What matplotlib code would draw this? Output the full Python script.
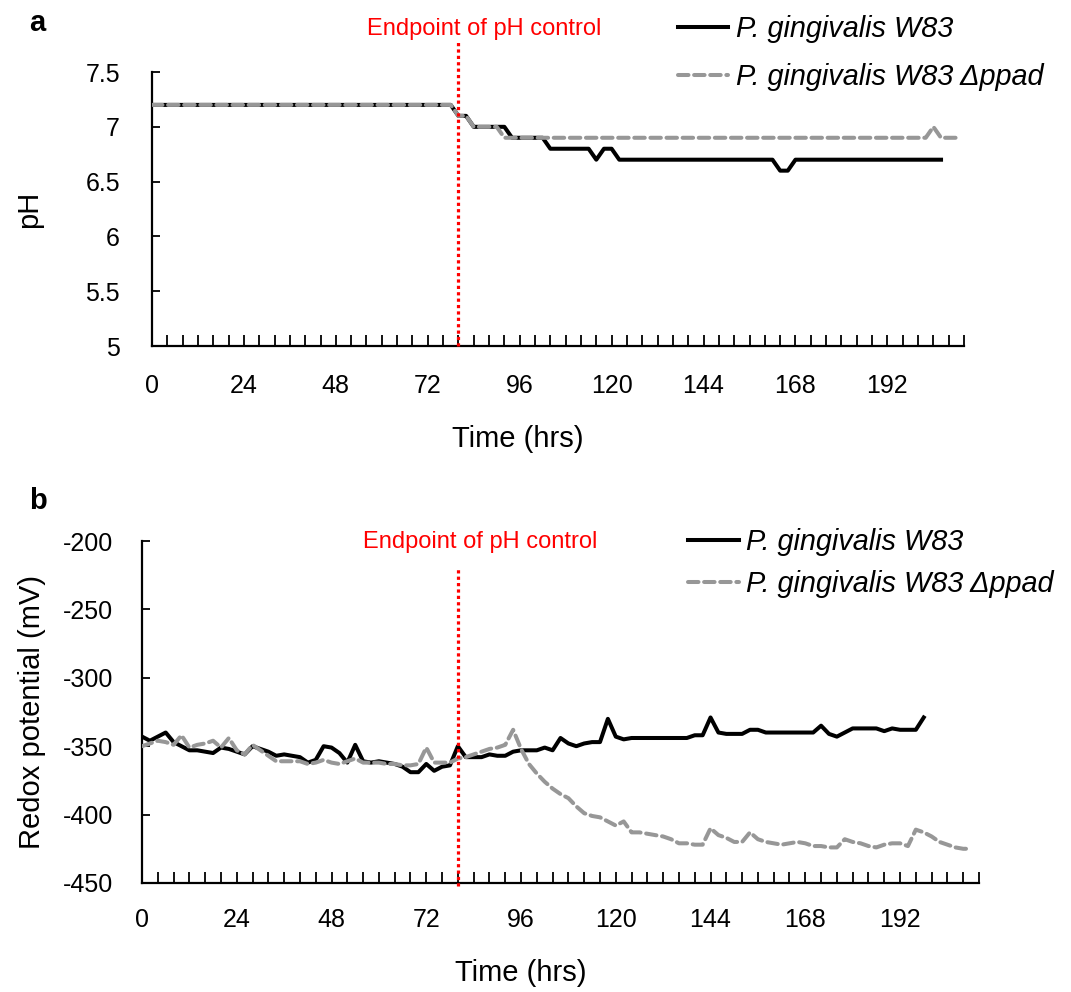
import numpy as np
import matplotlib
matplotlib.use("Agg")
import matplotlib.pyplot as plt

plt.rcParams['font.family'] = ['Liberation Sans', 'DejaVu Sans']
plt.rcParams['axes.unicode_minus'] = False

# sampling every 2 hours
step_hrs = 2

# panel a: pH
ph_w83 = [7.2, 7.2, 7.2, 7.2, 7.2, 7.2, 7.2, 7.2, 7.2, 7.2,
          7.2, 7.2, 7.2, 7.2, 7.2, 7.2, 7.2, 7.2, 7.2, 7.2,
          7.2, 7.2, 7.2, 7.2, 7.2, 7.2, 7.2, 7.2, 7.2, 7.2,
          7.2, 7.2, 7.2, 7.2, 7.2, 7.2, 7.2, 7.2, 7.2, 7.2,
          7.1, 7.1, 7.0, 7.0, 7.0, 7.0, 7.0, 6.9, 6.9, 6.9,
          6.9, 6.9, 6.8, 6.8, 6.8, 6.8, 6.8, 6.8, 6.7, 6.8,
          6.8, 6.7, 6.7, 6.7, 6.7, 6.7, 6.7, 6.7, 6.7, 6.7,
          6.7, 6.7, 6.7, 6.7, 6.7, 6.7, 6.7, 6.7, 6.7, 6.7,
          6.7, 6.7, 6.6, 6.6, 6.7, 6.7, 6.7, 6.7, 6.7, 6.7,
          6.7, 6.7, 6.7, 6.7, 6.7, 6.7, 6.7, 6.7, 6.7, 6.7,
          6.7, 6.7, 6.7, 6.7]
ph_ppad = [7.2, 7.2, 7.2, 7.2, 7.2, 7.2, 7.2, 7.2, 7.2, 7.2,
           7.2, 7.2, 7.2, 7.2, 7.2, 7.2, 7.2, 7.2, 7.2, 7.2,
           7.2, 7.2, 7.2, 7.2, 7.2, 7.2, 7.2, 7.2, 7.2, 7.2,
           7.2, 7.2, 7.2, 7.2, 7.2, 7.2, 7.2, 7.2, 7.2, 7.2,
           7.1, 7.1, 7.0, 7.0, 7.0, 7.0, 6.9, 6.9, 6.9, 6.9,
           6.9, 6.9, 6.9, 6.9, 6.9, 6.9, 6.9, 6.9, 6.9, 6.9,
           6.9, 6.9, 6.9, 6.9, 6.9, 6.9, 6.9, 6.9, 6.9, 6.9,
           6.9, 6.9, 6.9, 6.9, 6.9, 6.9, 6.9, 6.9, 6.9, 6.9,
           6.9, 6.9, 6.9, 6.9, 6.9, 6.9, 6.9, 6.9, 6.9, 6.9,
           6.9, 6.9, 6.9, 6.9, 6.9, 6.9, 6.9, 6.9, 6.9, 6.9,
           6.9, 6.9, 7.0, 6.9, 6.9, 6.9]

# panel b: redox potential (mV)
redox_w83 = [-343, -346, -343, -340, -347, -350, -353, -353, -354, -355,
             -351, -352, -354, -356, -350, -352, -354, -357, -356, -357,
             -358, -362, -360, -350, -351, -355, -362, -349, -361, -362,
             -361, -362, -363, -365, -369, -369, -363, -368, -365, -364,
             -350, -358, -358, -358, -356, -357, -357, -354, -353, -353,
             -353, -351, -353, -344, -348, -350, -348, -347, -347, -330,
             -343, -345, -344, -344, -344, -344, -344, -344, -344, -344,
             -342, -342, -329, -340, -341, -341, -341, -338, -338, -340,
             -340, -340, -340, -340, -340, -340, -335, -341, -343, -340,
             -337, -337, -337, -337, -339, -337, -338, -338, -338, -329]
redox_ppad = [-350, -348, -346, -347, -349, -342, -351, -349, -348, -346,
              -351, -344, -353, -356, -349, -353, -357, -361, -361, -361,
              -361, -363, -362, -360, -362, -363, -361, -359, -362, -362,
              -362, -363, -363, -364, -364, -363, -351, -362, -362, -362,
              -359, -358, -356, -354, -352, -351, -349, -338, -352, -363,
              -370, -376, -381, -385, -388, -394, -399, -401, -402, -405,
              -408, -405, -413, -413, -414, -415, -416, -418, -421, -421,
              -422, -422, -410, -415, -417, -420, -420, -413, -418, -420,
              -421, -422, -421, -420, -421, -423, -423, -424, -424, -418,
              -420, -421, -423, -424, -422, -421, -421, -423, -411, -413,
              -416, -420, -422, -424, -425, -425]

endpoint_hrs = 80
x_max = 212
xtick_labels = ['0', '24', '48', '72', '96', '120', '144', '168', '192']
ph_ticks = [5, 5.5, 6, 6.5, 7, 7.5]
ph_tick_labels = ['5', '5.5', '6', '6.5', '7', '7.5']
redox_ticks = [-450, -400, -350, -300, -250, -200]

label_w83 = 'P. gingivalis W83'
label_ppad = 'P. gingivalis W83 \u0394ppad'
gray = '#979797'


def hours(series):
    return np.arange(len(series)) * step_hrs


def style_axis(ax, ypad, xpad):
    for s in ['top', 'right']:
        ax.spines[s].set_visible(False)
    for s in ['left', 'bottom']:
        ax.spines[s].set_linewidth(1.6)
    ax.set_xlim(0, x_max)
    ticks = np.arange(0, x_max + 1, 4)
    ax.set_xticks(ticks)
    ax.set_xticklabels([str(t) if str(t) in xtick_labels and t % 24 == 0 else '' for t in ticks])
    ax.tick_params(axis='x', direction='in', length=8, width=1.3, pad=xpad, labelsize=18)
    ax.tick_params(axis='y', direction='in', length=6, width=1.3, pad=ypad, labelsize=18)


fig = plt.figure(figsize=(10.71, 9.92), dpi=100)

# ---- panel a ----
axa = fig.add_axes([0.1419, 0.6512, 0.7582, 0.2762])
axa.plot(hours(ph_w83), ph_w83, color='black', lw=2.9, label=label_w83, zorder=3)
axa.plot(hours(ph_ppad), ph_ppad, color=gray, lw=2.9, dashes=(2.6, 1.4),
         dash_capstyle='round', label=label_ppad, zorder=4)
axa.axvline(endpoint_hrs, ymin=0, ymax=1.117, color='red', lw=2.3,
            linestyle=(0, (1, 1)), clip_on=False, zorder=5)
axa.set_ylim(5, 7.5)
axa.set_yticks(ph_ticks)
axa.set_yticklabels(ph_tick_labels)
style_axis(axa, ypad=23, xpad=20)
axa.set_ylabel('pH', fontsize=21)
axa.yaxis.set_label_coords(-0.134, 0.5)
axa.set_xlabel('Time (hrs)', fontsize=21)
axa.xaxis.set_label_coords(0.45, -0.29)
axa.legend(loc='center left', bbox_to_anchor=(0.633, 0.9465),
           bbox_transform=fig.transFigure, frameon=False, borderpad=0,
           borderaxespad=0, handlelength=1.75, handletextpad=0.25,
           labelspacing=0.68, prop={'style': 'italic', 'size': 20.8})
fig.text(0.452, 0.9708, 'Endpoint of pH control', color='red', fontsize=17,
         ha='center', va='center')
fig.text(0.035, 0.977, 'a', fontsize=21, fontweight='bold', ha='center', va='center')

# ---- panel b ----
axb = fig.add_axes([0.1326, 0.1099, 0.7815, 0.3447])
axb.plot(hours(redox_w83), redox_w83, color='black', lw=2.9, label=label_w83, zorder=3)
axb.plot(hours(redox_ppad), redox_ppad, color=gray, lw=2.9, dashes=(2.6, 1.4),
         dash_capstyle='round', label=label_ppad, zorder=4)
axb.axvline(endpoint_hrs, ymin=-0.009, ymax=0.924, color='red', lw=2.3,
            linestyle=(0, (1, 1)), clip_on=False, zorder=5)
axb.set_ylim(-450, -200)
axb.set_yticks(redox_ticks)
style_axis(axb, ypad=21, xpad=18)
axb.set_ylabel('Redox potential (mV)', fontsize=21)
axb.yaxis.set_label_coords(-0.115, 0.5)
axb.set_xlabel('Time (hrs)', fontsize=21)
axb.xaxis.set_label_coords(0.452, -0.222)
axb.legend(loc='center left', bbox_to_anchor=(0.6424, 0.4325),
           bbox_transform=fig.transFigure, frameon=False, borderpad=0,
           borderaxespad=0, handlelength=1.75, handletextpad=0.25,
           labelspacing=0.47, prop={'style': 'italic', 'size': 20.8})
fig.text(0.448, 0.4536, 'Endpoint of pH control', color='red', fontsize=17,
         ha='center', va='center')
fig.text(0.035, 0.495, 'b', fontsize=21, fontweight='bold', ha='center', va='center')

fig.savefig('out.png', dpi=100)
